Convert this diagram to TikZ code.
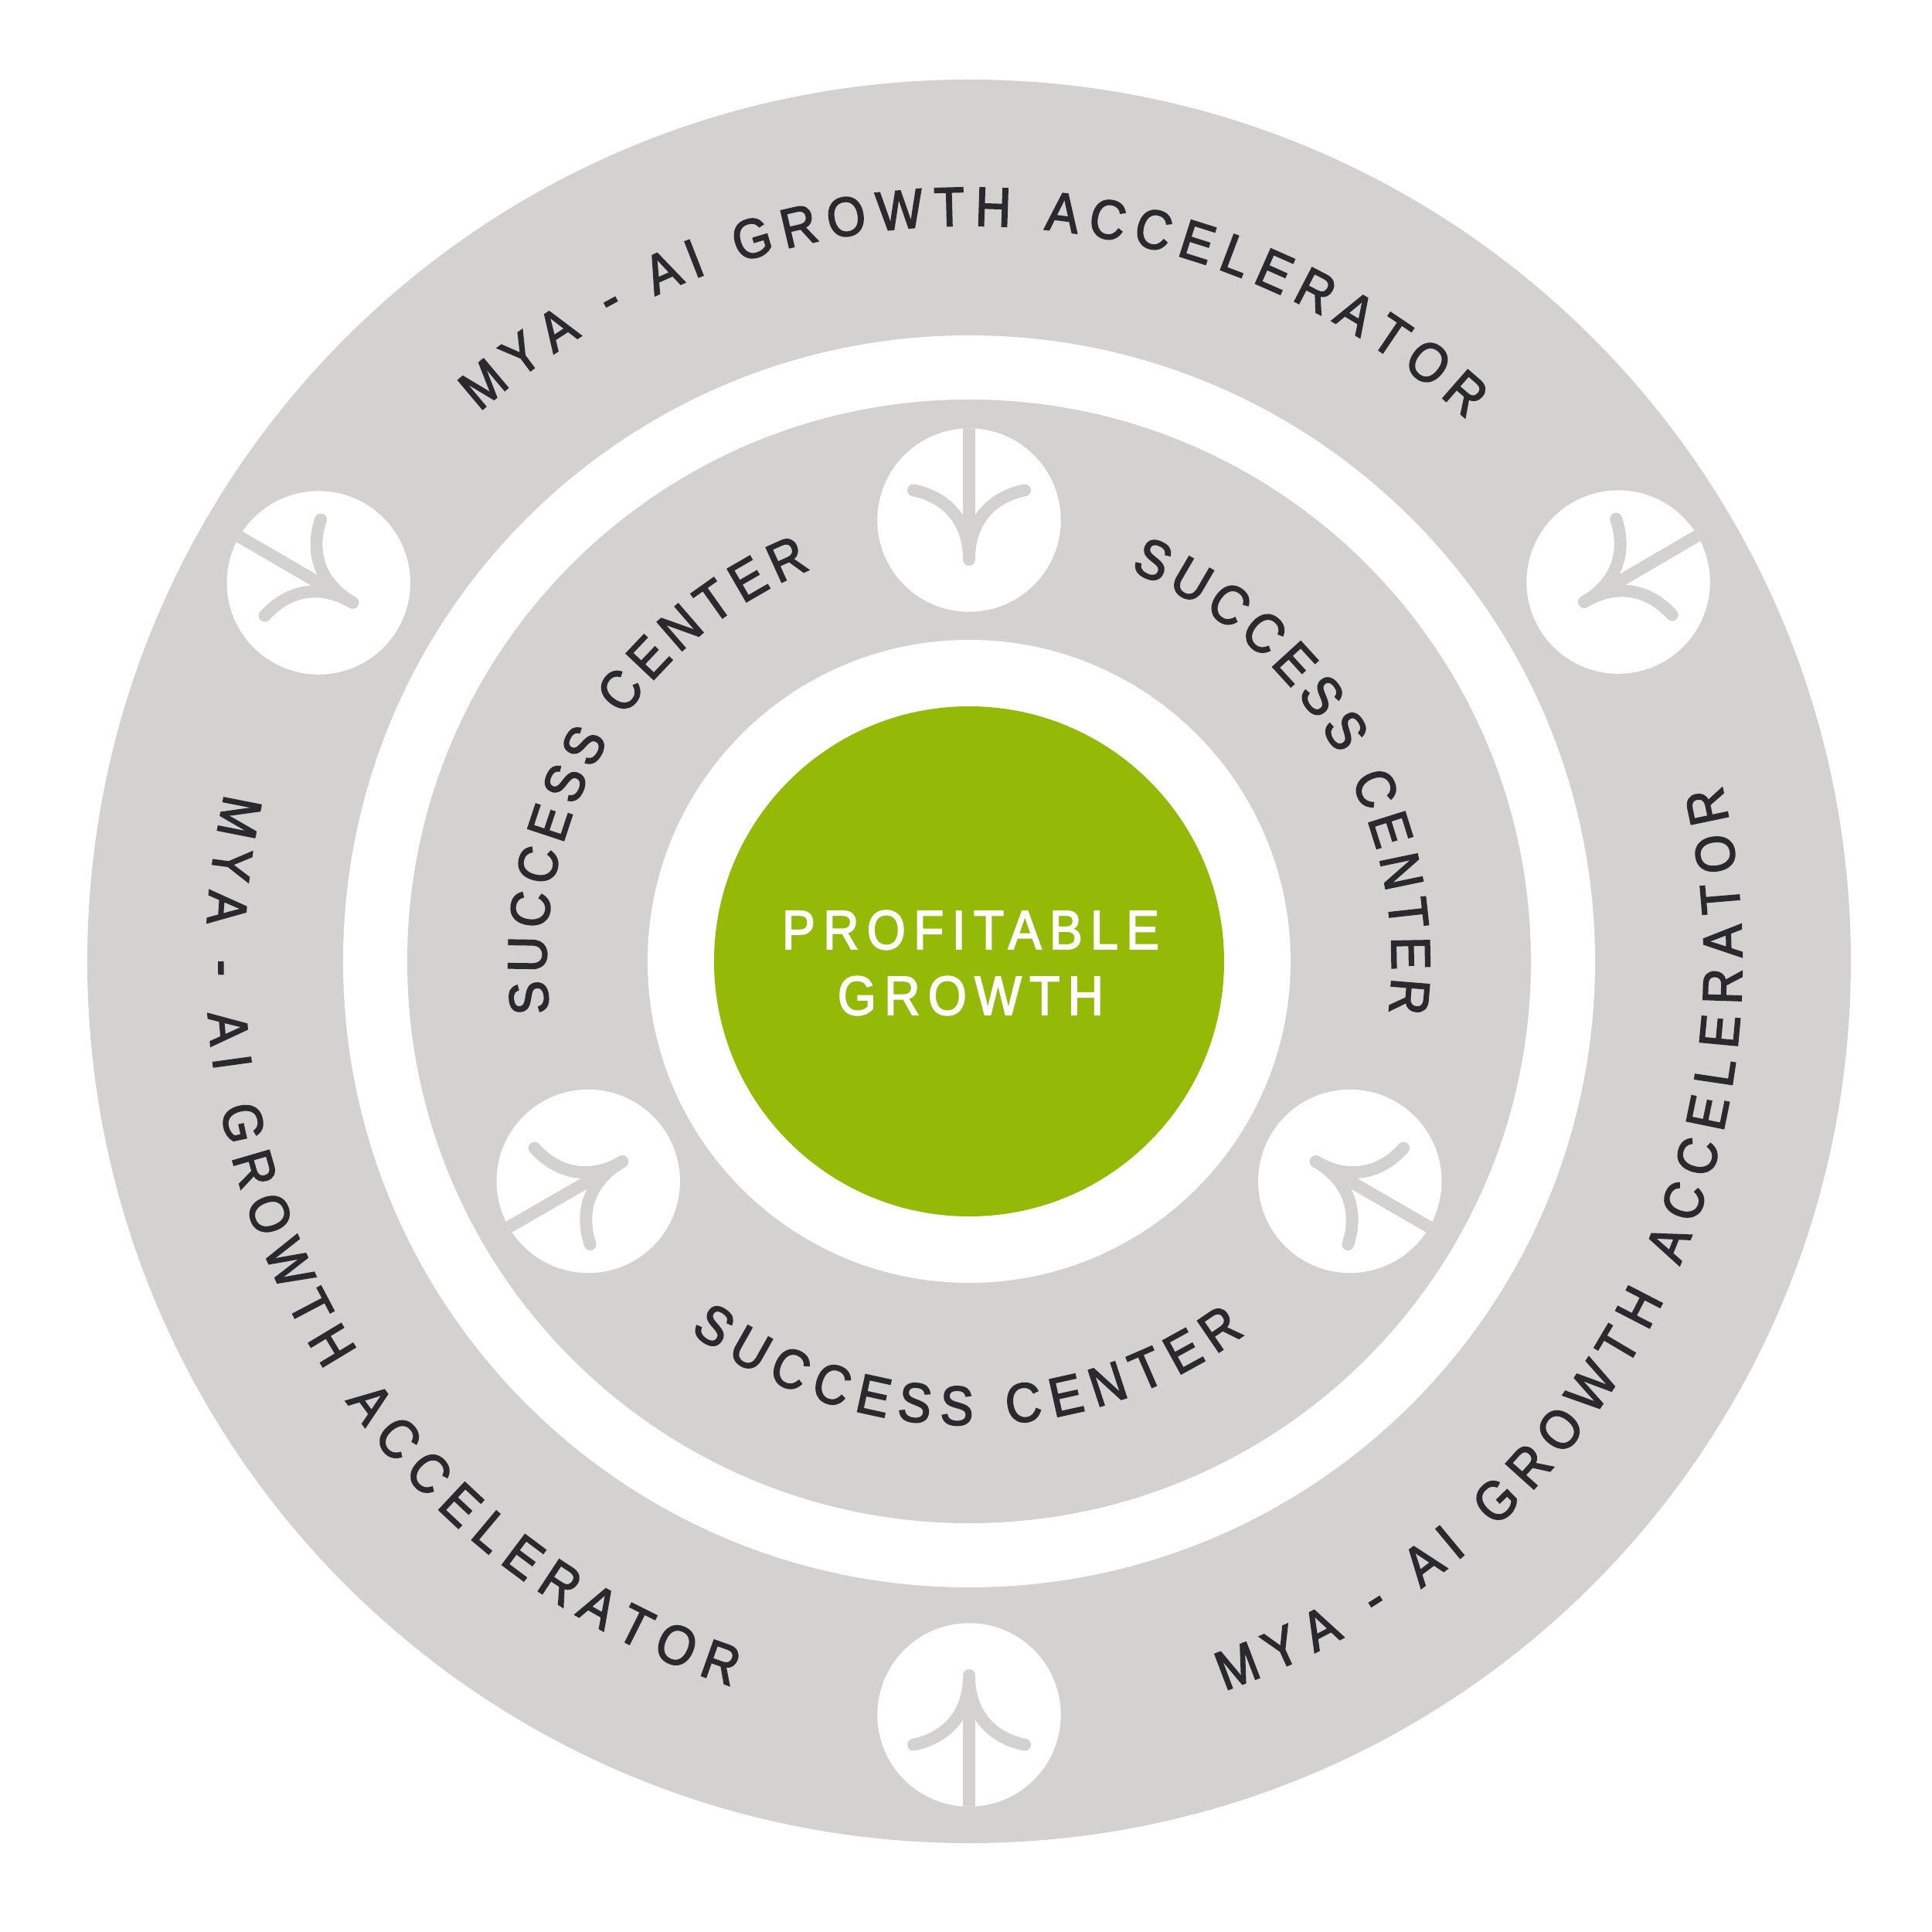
\documentclass[tikz,border=0pt]{standalone}
\usepackage{fontspec}
\newfontfamily\ringfamily[FakeBold=2.5,FakeStretch=0.9]{Liberation Sans}
\newfontfamily\profitfamily[FakeBold=2.5,FakeStretch=0.9,LetterSpace=14.5]{Liberation Sans}
\usetikzlibrary{decorations.text}
\definecolor{ringgrey}{HTML}{D3D2D0}
\definecolor{leafgreen}{HTML}{95B907}
\definecolor{labelink}{HTML}{2A2A2E}
\newcommand{\ringfont}{\ringfamily\fontsize{20.3}{24.2}\selectfont}
\begin{document}
\begin{tikzpicture}[ring/.style = {circle, inner sep=0pt, minimum size=#1},
	badge/.style = {circle, fill=white, inner sep=0pt, minimum size=2.374cm},
	twig/.style = {draw=ringgrey, line width=4.5pt, line cap=round},
	ringtext/.style = {decorate, decoration={text along path, text align={fit to path},
		text={|\ringfont\color{labelink}|#1}}}]
	\useasboundingbox (-12.54,-12.56) rectangle (12.46,12.44);
	\node[ring=22.82cm, fill=ringgrey] (outer) at (0,0) {};
	\node[ring=16.2cm, fill=white] (gapouter) at (0,0) {};
	\node[ring=14.54cm, fill=ringgrey] (inner) at (0,0) {};
	\node[ring=8.32cm, fill=white] (gapinner) at (0,0) {};
	\node[ring=6.6cm, fill=leafgreen] (profit) at (0,0) {};
	\node[text=white, align=center, font=\profitfamily\fontsize{20.3}{24.2}\selectfont] (profitlabel) at (0.02,-0.02) {PROFITABLE\\GROWTH};
	% badges, the stem always points away from the middle
	\foreach \name/\ang/\rad in {a/149.8/9.74, b/30.3/9.73, c/-90/9.75, d/90/5.71, e/-30/5.69, f/210/5.69} {
		\node[badge] (\name) at (\ang:\rad) {};
		\begin{scope}[shift={(\name)}, rotate=\ang-90]
			\clip (0,0) circle (1.187);
			\draw[twig, line cap=butt] (0,1.3) -- (0,-0.2);
			\draw[twig] (-0.72,0.387) .. controls (-0.3,0.3) and (0,0) .. (0,-0.51);
			\draw[twig] (0.72,0.387) .. controls (0.3,0.3) and (0,0) .. (0,-0.51);
		\end{scope}
	}
	% clockwise labels have their baseline inside, the others outside
	\path[ringtext={MYA - AI GROWTH ACCELERATOR}] (131.7:9.52) arc[start angle=131.7, end angle=47.5, radius=9.52];
	\path[ringtext={MYA - AI GROWTH ACCELERATOR}] (167.3:9.87) arc[start angle=167.3, end angle=251.8, radius=9.87];
	\path[ringtext={MYA - AI GROWTH ACCELERATOR}] (-70.7:10) arc[start angle=-70.7, end angle=13.1, radius=10];
	\path[ringtext={SUCCESS CENTER}] (187:5.47) arc[start angle=187, end angle=112, radius=5.47];
	\path[ringtext={SUCCESS CENTER}] (67.6:5.47) arc[start angle=67.6, end angle=-7, radius=5.47];
	\path[ringtext={SUCCESS CENTER}] (233:6) arc[start angle=233, end angle=306.5, radius=6];
\end{tikzpicture}
\end{document}
